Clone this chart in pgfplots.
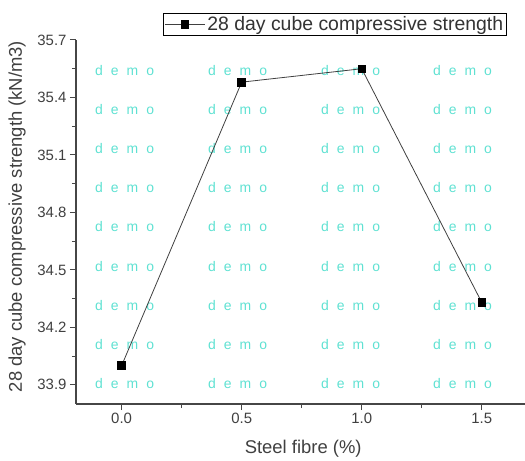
\documentclass[border=0pt]{standalone}
\usepackage{fontspec}
\setmainfont{Liberation Sans}
\usepackage{pgfplots}
\pgfplotsset{compat=1.18}
\definecolor{wm}{RGB}{95,225,210}
\definecolor{spine}{RGB}{70,70,70}
\newcommand\demo{\fontsize{14}{14}\selectfont d\hspace{8bp}e\hspace{8bp}m\hspace{8bp}o}
\begin{document}
\begin{tikzpicture}
\useasboundingbox (0,0) rectangle (525bp,461bp);
\begin{axis}[
  at={(76bp,57bp)}, anchor=south west,
  scale only axis, width=449bp, height=364bp,
  xmin=-0.19, xmax=1.68, ymin=33.8, ymax=35.7,
  axis x line*=bottom, axis y line*=left,
  axis line style={spine, line width=1.2bp, -},
  xtick={0,0.5,1.0,1.5},
  xticklabels={0.0,0.5,1.0,1.5},
  ytick={33.9,34.2,34.5,34.8,35.1,35.4,35.7},
  yticklabels={33.9,34.2,34.5,34.8,35.1,35.4,35.7},
  minor tick num=1,
  tick align=outside,
  major tick length=6bp, minor tick length=4bp,
  every tick/.style={spine, line width=1bp},
  /pgf/number format/assume math mode=true,
  tick label style={font=\fontsize{15}{15}\selectfont, text=black!75},
  xlabel={Steel fibre (\%)},
  ylabel={28 day cube compressive strength (kN/m3)},
  label style={font=\fontsize{18.5}{18.5}\selectfont, text=black!75},
  xlabel style={at={(axis description cs:0.506,-0.124)}, anchor=center},
  ylabel style={at={(axis description cs:-0.131,0.515)}, anchor=center},
  legend style={at={(axis description cs:0.194,1.074)}, anchor=north west,
    draw=black, line width=0.8bp, font=\fontsize{19.5}{19.5}\selectfont, text=black!80,
    inner sep=1bp, row sep=0pt},
  legend cell align=left,
  legend image code/.code={\draw[mark repeat=2,mark phase=2,#1] plot coordinates {(0bp,0bp) (20bp,0bp) (40bp,0bp)};},
  clip=false,
]
\pgfplotsforeachungrouped \xx in {0.0125,0.483,0.954,1.42}{
  \pgfplotsforeachungrouped \yy in {35.54,35.336,35.132,34.928,34.724,34.52,34.316,34.112,33.908}{
    \edef\temp{\noexpand\node[text=wm, anchor=center, inner sep=0pt] at (axis cs:\xx,\yy) {\noexpand\demo};}
    \temp
  }
}
\addplot[black!75, line width=0.8bp, mark=square*, mark size=3.8bp,
  mark options={fill=black, draw=black, solid}]
  coordinates {(0,34.0) (0.5,35.48) (1.0,35.55) (1.5,34.33)};
\addlegendentry{28 day cube compressive strength}
\end{axis}
\end{tikzpicture}
\end{document}
